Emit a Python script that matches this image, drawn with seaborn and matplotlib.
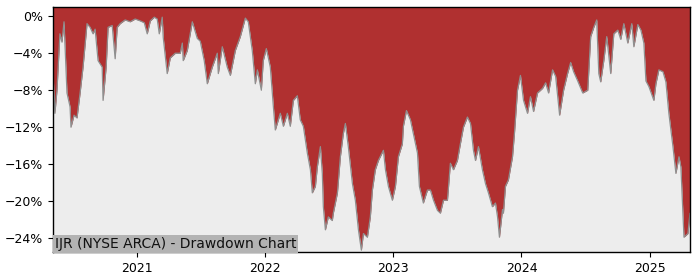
import numpy as np
import pandas as pd
import matplotlib
matplotlib.use("Agg")
import matplotlib.pyplot as plt
import matplotlib.ticker as mticker
import seaborn as sns

# decimal-year timestamps and drawdown values (%)
years = [2020.344, 2020.359, 2020.375, 2020.398, 2020.414, 2020.430, 2020.453, 2020.477, 2020.484, 2020.508,
         2020.531, 2020.555, 2020.578, 2020.609, 2020.633, 2020.656, 2020.672, 2020.695, 2020.727, 2020.734,
         2020.758, 2020.773, 2020.805, 2020.828, 2020.844, 2020.867, 2020.906, 2020.945, 2020.984, 2021.023,
         2021.055, 2021.078, 2021.102, 2021.133, 2021.156, 2021.172, 2021.195, 2021.203, 2021.234, 2021.258,
         2021.297, 2021.336, 2021.352, 2021.359, 2021.391, 2021.430, 2021.469, 2021.492, 2021.523, 2021.547,
         2021.586, 2021.625, 2021.633, 2021.664, 2021.703, 2021.727, 2021.766, 2021.805, 2021.844, 2021.867,
         2021.898, 2021.922, 2021.938, 2021.969, 2021.984, 2022.008, 2022.039, 2022.063, 2022.078, 2022.117,
         2022.141, 2022.172, 2022.195, 2022.219, 2022.250, 2022.273, 2022.297, 2022.328, 2022.352, 2022.367,
         2022.391, 2022.406, 2022.430, 2022.445, 2022.453, 2022.469, 2022.492, 2022.523, 2022.531, 2022.563,
         2022.586, 2022.609, 2022.625, 2022.648, 2022.680, 2022.703, 2022.727, 2022.750, 2022.766, 2022.797,
         2022.820, 2022.836, 2022.859, 2022.883, 2022.922, 2022.938, 2022.961, 2022.992, 2023.016, 2023.039,
         2023.070, 2023.078, 2023.102, 2023.133, 2023.156, 2023.188, 2023.203, 2023.234, 2023.266, 2023.289,
         2023.313, 2023.344, 2023.367, 2023.391, 2023.422, 2023.445, 2023.469, 2023.500, 2023.523, 2023.547,
         2023.578, 2023.602, 2023.625, 2023.641, 2023.664, 2023.695, 2023.719, 2023.742, 2023.773, 2023.797,
         2023.813, 2023.828, 2023.852, 2023.859, 2023.875, 2023.898, 2023.930, 2023.945, 2023.969, 2023.992,
         2024.016, 2024.047, 2024.070, 2024.094, 2024.125, 2024.164, 2024.188, 2024.211, 2024.242, 2024.266,
         2024.297, 2024.328, 2024.359, 2024.383, 2024.406, 2024.438, 2024.477, 2024.516, 2024.539, 2024.563,
         2024.586, 2024.602, 2024.617, 2024.641, 2024.664, 2024.695, 2024.719, 2024.750, 2024.773, 2024.797,
         2024.828, 2024.859, 2024.875, 2024.906, 2024.930, 2024.953, 2024.969, 2024.992, 2025.031, 2025.047,
         2025.070, 2025.102, 2025.125, 2025.148, 2025.180, 2025.203, 2025.227, 2025.242, 2025.266, 2025.297,
         2025.313]

drawdown = [-6.0, -10.5, -8.0, -1.9, -2.8, -0.6, -8.3, -9.8, -12.0, -10.7,
            -11.0, -8.3, -5.5, -0.8, -1.2, -1.9, -1.4, -4.8, -5.5, -9.1,
            -5.5, -1.2, -1.0, -4.6, -1.2, -0.8, -0.4, -0.6, -0.3, -0.5,
            -0.7, -1.9, -0.5, -0.1, -0.3, -1.9, -0.1, -2.3, -6.2, -4.5,
            -4.0, -4.0, -2.9, -4.8, -3.7, -0.6, -2.4, -2.7, -4.8, -7.3,
            -5.5, -4.0, -6.2, -3.3, -5.5, -6.4, -3.7, -2.2, -0.2, -0.6,
            -3.7, -7.3, -5.8, -8.0, -4.8, -3.5, -5.5, -9.8, -12.3, -10.5,
            -11.9, -10.5, -11.9, -9.1, -8.6, -11.2, -11.9, -14.8, -16.6, -19.1,
            -18.4, -16.3, -14.1, -17.0, -20.6, -23.1, -21.7, -22.1, -21.3, -19.1,
            -15.2, -12.7, -11.6, -14.1, -18.1, -19.9, -23.1, -25.3, -23.5, -23.9,
            -21.7, -18.8, -16.6, -15.6, -14.5, -16.6, -18.4, -19.9, -18.4, -15.2,
            -13.8, -11.9, -10.2, -11.2, -12.7, -14.8, -18.4, -20.2, -18.8, -18.8,
            -19.9, -21.0, -21.3, -19.9, -19.9, -15.9, -16.6, -15.6, -13.8, -12.0,
            -10.9, -11.6, -14.5, -15.6, -14.1, -16.6, -18.1, -19.1, -20.6, -20.2,
            -21.7, -23.9, -20.9, -21.3, -18.4, -17.7, -15.2, -12.7, -8.0, -6.4,
            -9.1, -10.5, -8.7, -10.3, -8.3, -7.8, -7.2, -8.3, -5.8, -6.5,
            -10.7, -8.0, -6.2, -5.0, -6.0, -7.0, -8.3, -8.0, -2.2, -1.2,
            -0.4, -6.2, -7.1, -4.8, -2.2, -6.2, -1.9, -1.5, -2.5, -0.8,
            -2.9, -0.8, -3.3, -0.9, -1.5, -2.9, -7.0, -7.6, -9.1, -7.3,
            -5.8, -6.0, -7.1, -10.5, -14.1, -17.0, -15.2, -16.3, -23.9, -23.5,
            -21.3]

y_ticks = [0, -4, -8, -12, -16, -20, -24]
x_tick_years = [2021, 2022, 2023, 2024, 2025]
title = "IJR (NYSE ARCA) - Drawdown Chart"


def to_date(y):
    yr = int(np.floor(y))
    start = pd.Timestamp(year=yr, month=1, day=1)
    end = pd.Timestamp(year=yr + 1, month=1, day=1)
    return start + (end - start) * (y - yr)


df = pd.DataFrame({"date": [to_date(y) for y in years], "dd": drawdown})

sns.set_theme(style="ticks")
plt.rcParams["font.family"] = ["DejaVu Sans"]

fig = plt.figure(figsize=(7, 2.8), dpi=100)
ax = fig.add_axes([0.0757, 0.1, 0.91, 0.875])
ax.set_facecolor("#ededed")

y_top = 1.0
ax.fill_between(df["date"], df["dd"], y_top, color="#b03030", linewidth=0)
sns.lineplot(data=df, x="date", y="dd", ax=ax, color="#8f8f8f", linewidth=0.9)

ax.set_xlim(df["date"].iloc[0], df["date"].iloc[-1])
ax.set_ylim(-25.5, y_top)
ax.set_yticks(y_ticks)
ax.yaxis.set_major_formatter(mticker.FuncFormatter(lambda v, p: f"{v:.0f}%".replace("-", "\u2212")))
ax.set_xticks([pd.Timestamp(year=y, month=1, day=1) for y in x_tick_years])
ax.set_xticklabels([str(y) for y in x_tick_years])
ax.set_xlabel("")
ax.set_ylabel("")
ax.tick_params(axis="both", labelsize=9, colors="black", length=3.5, width=0.8)
for s in ax.spines.values():
    s.set_color("black")
    s.set_linewidth(1.0)

ax.text(0.003, 0.005, title, transform=ax.transAxes, ha="left", va="bottom",
        fontsize=10, color="#111111",
        bbox=dict(facecolor="#b3b3b3", edgecolor="none", pad=1.5))

fig.savefig("out.png", dpi=100)
